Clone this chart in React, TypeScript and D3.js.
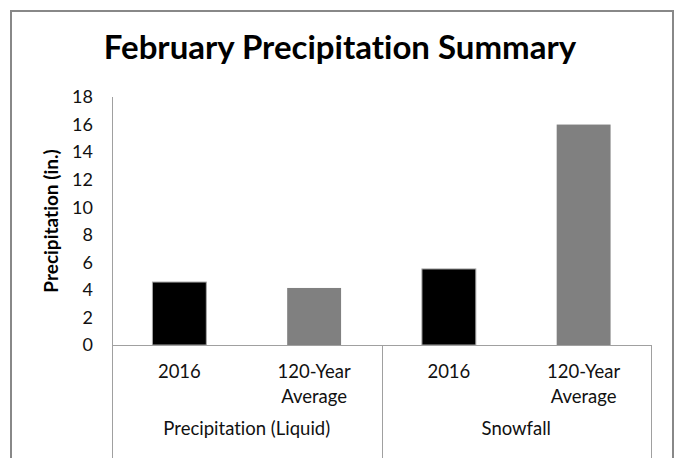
import React, { useEffect, useRef } from "react";
import * as d3 from "d3";

const groups = ["Precipitation (Liquid)", "Snowfall"];
const seriesNames = ["2016", "120-Year Average"];
const values2016 = [4.57, 5.52];
const valuesAverage = [4.14, 16.0];
const yTicks = [0, 2, 4, 6, 8, 10, 12, 14, 16, 18];
const barColors = ["#000000", "#808080"];

const FONT = "Lato, 'Open Sans', sans-serif";

export default function App() {
  const ref = useRef(null);

  useEffect(() => {
    const width = 678;
    const height = 458;
    const left = 112;
    const right = 651;
    const top = 97;
    const bottom = 345;

    const svg = d3
      .select(ref.current)
      .html(null)
      .attr("width", width)
      .attr("height", height)
      .style("font-variant-ligatures", "none");

    // table built from the named arrays
    const rows = [];
    groups.forEach((g, gi) => {
      rows.push({ group: g, series: seriesNames[0], value: values2016[gi], si: 0 });
      rows.push({ group: g, series: seriesNames[1], value: valuesAverage[gi], si: 1 });
    });
    const key = (d) => d.group + "|" + d.series;

    const x = d3
      .scaleBand()
      .domain(rows.map(key))
      .range([left, right])
      .paddingInner(0.6)
      .paddingOuter(0.3);

    const xGroup = d3.scaleBand().domain(groups).range([left, right]).padding(0);

    const y = d3.scaleLinear().domain([0, 18]).range([bottom, top]);

    // outer frame
    svg
      .append("rect")
      .attr("x", 11)
      .attr("y", 11)
      .attr("width", 662)
      .attr("height", 470)
      .attr("fill", "#fff")
      .attr("stroke", "#888")
      .attr("stroke-width", 2);

    // title
    svg
      .append("text")
      .attr("x", 340)
      .attr("y", 59)
      .attr("text-anchor", "middle")
      .attr("font-family", FONT)
      .attr("font-weight", "bold")
      .attr("font-size", 33)
      .attr("fill", "#000")
      .text("February Precipitation Summary");

    // bars
    svg
      .append("g")
      .selectAll("rect")
      .data(rows)
      .enter()
      .append("rect")
      .attr("x", (d) => x(key(d)))
      .attr("y", (d) => y(d.value))
      .attr("width", x.bandwidth())
      .attr("height", (d) => y(0) - y(d.value))
      .attr("fill", (d) => barColors[d.si])
      .attr("stroke", (d) => (d.si === 0 ? "#a6a6a6" : "none"))
      .attr("stroke-width", 1);

    // y axis line
    svg
      .append("line")
      .attr("x1", left + 0.5)
      .attr("x2", left + 0.5)
      .attr("y1", top)
      .attr("y2", bottom)
      .attr("stroke", "#a0a0a0");

    // y tick labels
    svg
      .append("g")
      .selectAll("text")
      .data(yTicks)
      .enter()
      .append("text")
      .attr("x", 93)
      .attr("y", (d) => y(d))
      .attr("dy", "0.35em")
      .attr("text-anchor", "end")
      .attr("font-family", FONT)
      .attr("font-size", 18)
      .attr("fill", "#111")
      .text((d) => d);

    // y axis title
    svg
      .append("text")
      .attr("transform", `translate(58, ${(top + bottom) / 2}) rotate(-90)`)
      .attr("text-anchor", "middle")
      .attr("font-family", FONT)
      .attr("font-weight", "bold")
      .attr("font-size", 19)
      .attr("fill", "#000")
      .text("Precipitation (in.)");

    // x axis line
    svg
      .append("line")
      .attr("x1", left)
      .attr("x2", right)
      .attr("y1", bottom + 0.5)
      .attr("y2", bottom + 0.5)
      .attr("stroke", "#a0a0a0");

    // group dividers
    const dividers = groups.map((g) => xGroup(g)).concat([right]);
    svg
      .append("g")
      .selectAll("line")
      .data(dividers)
      .enter()
      .append("line")
      .attr("x1", (d) => Math.round(d) + 0.5)
      .attr("x2", (d) => Math.round(d) + 0.5)
      .attr("y1", bottom)
      .attr("y2", height)
      .attr("stroke", "#a0a0a0");

    // series labels
    const catLabels = svg
      .append("g")
      .selectAll("text")
      .data(rows)
      .enter()
      .append("text")
      .attr("text-anchor", "middle")
      .attr("font-family", FONT)
      .attr("font-size", 18.5)
      .attr("fill", "#111");
    catLabels.each(function (d) {
      const idx = d.series.indexOf(" ");
      const lines = idx < 0 ? [d.series] : [d.series.slice(0, idx), d.series.slice(idx + 1)];
      lines.forEach((t, i) => {
        d3.select(this)
          .append("tspan")
          .attr("x", x(key(d)) + x.bandwidth() / 2)
          .attr("y", 378 + i * 25)
          .text(t);
      });
    });

    // group labels
    svg
      .append("g")
      .selectAll("text")
      .data(groups)
      .enter()
      .append("text")
      .attr("x", (d) => xGroup(d) + xGroup.bandwidth() / 2)
      .attr("y", 435)
      .attr("text-anchor", "middle")
      .attr("font-family", FONT)
      .attr("font-size", 18.5)
      .attr("fill", "#111")
      .text((d) => d);
  });

  return (
    <div style={{ position: "absolute", left: 0, top: 0 }}>
      <svg ref={ref}></svg>
    </div>
  );
}
